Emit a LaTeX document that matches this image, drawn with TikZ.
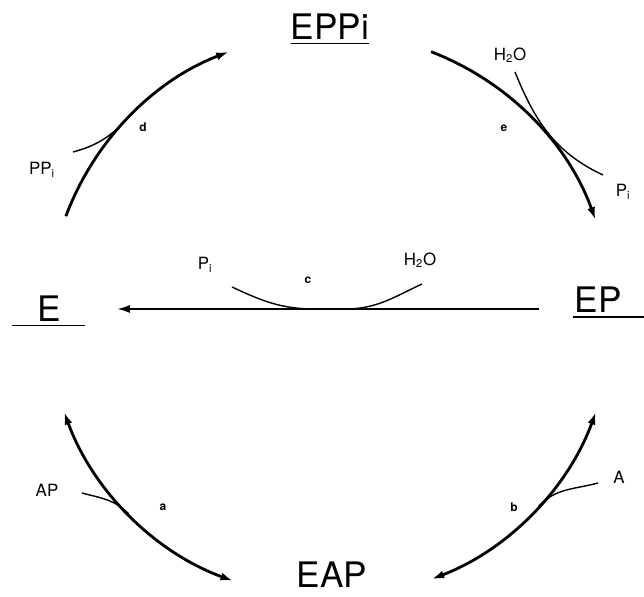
\documentclass[tikz,border=0pt]{standalone}
\usepackage{fontspec}
\setmainfont{TeX Gyre Heros}
\usepackage{tikz}
\usetikzlibrary{positioning, arrows.meta, calc}

\begin{document}
\begin{tikzpicture}[
            x=0.025cm, y=0.025cm,
            species/.style={inner sep=0pt, anchor=base, font=\fontsize{25}{30}\selectfont},
            lbl/.style={inner sep=0pt, font=\fontsize{12}{14}\selectfont},
            tag/.style={inner sep=0pt, font=\fontsize{8.5}{10}\selectfont\bfseries},
            arrow/.style={line width=2pt, -{Latex[length=3.2mm,width=2mm]}},
            twoway/.style={line width=2pt, {Latex[length=3.2mm,width=2mm]}-{Latex[length=3.2mm,width=2mm]}},
            side/.style={line width=1pt},
            uline/.style={line width=1.3pt}
        ]
            \useasboundingbox (0,0) rectangle (644,597);

            % enzyme forms
            \node[species] (EPPi) at (330,557) {EPPi};
            \node[species] (EP) at (598,284) {EP};
            \node[species] (E) at (49,275) {E};
            \node[species] (EAP) at (332,9) {EAP};

            \draw[uline] ([yshift=-0.8mm]EPPi.south west) -- ([yshift=-0.8mm]EPPi.south east);
            \draw[uline] ([xshift=-0.4mm,yshift=-0.9mm]EP.south west) -- ([xshift=6mm,yshift=-0.9mm]EP.south east);
            \draw[uline] ([xshift=-6.2mm,yshift=-0.8mm]E.south west) -- ([xshift=6mm,yshift=-0.8mm]E.south east);

            % substrates and products
            \node[lbl] (PPi) at (42,427) {PP\textsubscript{i}};
            \node[lbl] (H2Oe) at (510,542) {H\textsubscript{2}O};
            \node[lbl] (Pie) at (623,405) {P\textsubscript{i}};
            \node[lbl] (Pic) at (205,332) {P\textsubscript{i}};
            \node[lbl] (H2Oc) at (420,337) {H\textsubscript{2}O};
            \node[lbl] (AP) at (47,107) {AP};
            \node[lbl] (A) at (619,120) {A};

            % step letters
            \node[tag] (stepd) at (143,470) {d};
            \node[tag] (stepe) at (504,469) {e};
            \node[tag] (stepc) at (308,317) {c};
            \node[tag] (stepa) at (163,90) {a};
            \node[tag] (stepb) at (514,90) {b};

            % cycle
            \coordinate (O) at (330,282);
            \draw[arrow] ([shift={(159.5:282)}]O) arc[start angle=159.5, end angle=111, radius=282];
            \draw[arrow] ([shift={(69:282)}]O) arc[start angle=69, end angle=19.7, radius=282];
            \draw[twoway] ([shift={(200:283)}]O) arc[start angle=200, end angle=250, radius=283];
            \draw[twoway] ([shift={(-20:283)}]O) arc[start angle=-20, end angle=-69, radius=283];

            \coordinate (EPend) at (539,288);
            \coordinate (Eend) at (117,288);
            \draw[arrow, line width=1.5pt] (EPend) -- (Eend);

            % side reactions
            \coordinate (PPiend) at (73,445);
            \coordinate (H2Oeend) at (515,525);
            \coordinate (Pieend) at (603,422);
            \coordinate (Picend) at (232,310);
            \coordinate (H2Ocend) at (422,313);
            \coordinate (APend) at (82,104);
            \coordinate (Aend) at (598,114);

            \draw[side] (PPiend) to[out=15, in=226] ([shift={(136:282)}]O);
            \draw[side] (H2Oeend) to[out=-68, in=155] (Pieend);
            \draw[side] (Picend) to[out=-25, in=180] (315,288) -- (345,288) to[out=0, in=205] (H2Ocend);
            \draw[side] (APend) to[out=-15, in=134.6] ([shift={(224.6:283)}]O);
            \draw[side] (Aend) to[out=195, in=47.4] ([shift={(-42.6:283)}]O);

        \end{tikzpicture}
\end{document}
